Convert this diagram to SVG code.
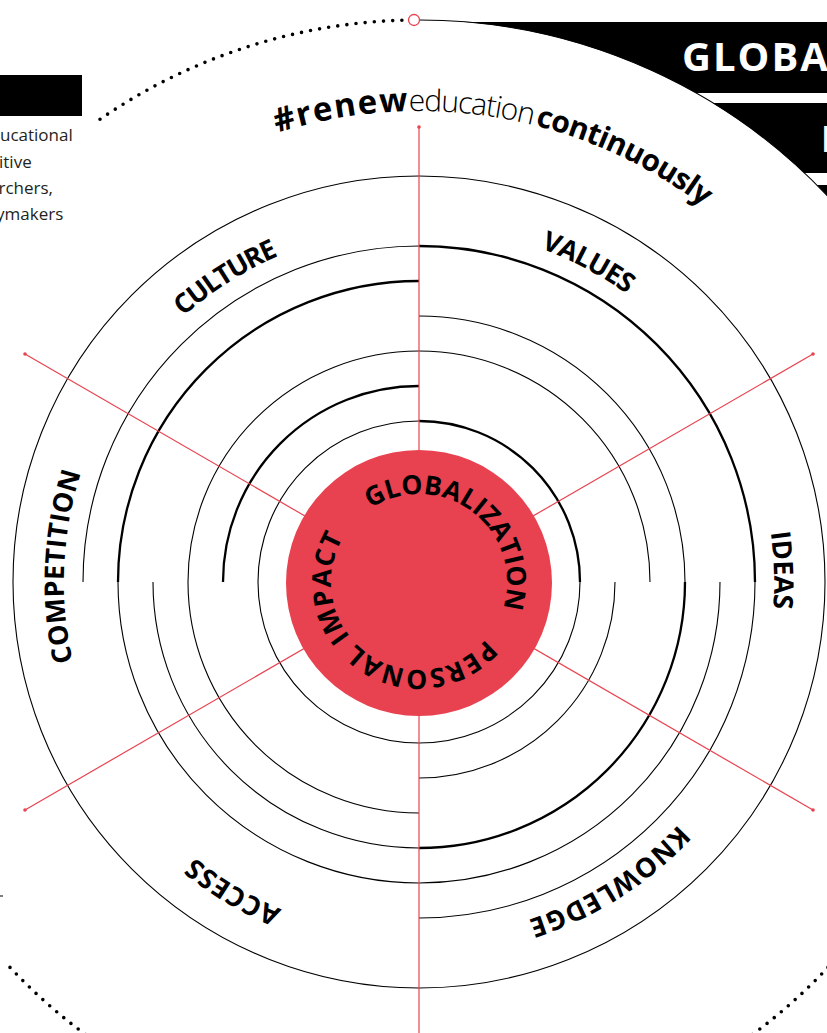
<svg xmlns="http://www.w3.org/2000/svg" width="827" height="1033" viewBox="0 0 827 1033">
<style>
.thin{fill:none;stroke:#000;stroke-width:1.1}
.thick{fill:none;stroke:#000;stroke-width:2.3}
.spoke{stroke:#e8434f;stroke-width:1.2;fill:none}
.end{fill:#e8434f}
.dotted{fill:none;stroke:#000;stroke-width:3.6;stroke-linecap:round;stroke-dasharray:0 9.2}
.lbl{font-family:"Open Sans","Noto Sans",sans-serif;font-weight:700;font-size:27px;fill:#000}
.core{font-family:"Open Sans","Noto Sans",sans-serif;font-weight:700;font-size:26.5px;fill:#000}
.tag{font-family:"Open Sans","Noto Sans",sans-serif;fill:#000}
.side{font-family:"Open Sans","Noto Sans",sans-serif;font-size:17px;fill:#231f20}
.head{font-family:"Open Sans","Noto Sans",sans-serif;font-weight:700;fill:#fff}
</style>
<defs>
<path id="pOuter" d="M419 227 A355 355 0 1 1 419 937 A355 355 0 1 1 419 227"/>
<path id="pCore" d="M419 494 A88 88 0 1 1 419 670 A88 88 0 1 1 419 494 A88 88 0 1 1 419 670 A88 88 0 1 1 419 494"/>
<path id="pTag" d="M419 111 A471 471 0 1 1 419 1053 A471 471 0 1 1 419 111 A471 471 0 1 1 419 1053 A471 471 0 1 1 419 111"/>
</defs>
<rect width="827" height="1033" fill="#fff"/>

<g id="header">
<rect x="420" y="22" width="407" height="71" fill="#000"/>
<rect x="420" y="103" width="407" height="70" fill="#000"/>
<rect x="420" y="185" width="407" height="60" fill="#000"/>
<circle cx="419" cy="582" r="562" fill="#fff"/>
<text class="head" x="682" y="71" font-size="40" letter-spacing="2">GLOBA</text>
<text class="head" x="821" y="152" font-size="35">I</text>
</g>

<g id="side-note">
<rect x="0" y="75" width="82" height="41" fill="#000"/>
<text class="side" x="0" y="141">ucational</text>
<text class="side" x="-1" y="167.5">itive</text>
<text class="side" x="-1.5" y="194">rchers,</text>
<text class="side" x="-4" y="220">ymakers</text>
<line x1="0" y1="896" x2="3" y2="896" stroke="#000" stroke-width="1"/>
</g>

<g id="orbit">
<path class="dotted" d="M100 119.3 A562 562 0 0 1 408 20.1"/>
<path class="thin" d="M420 20 A562 562 0 0 1 840 209.7"/>
<path class="dotted" d="M10 967.4 A562 562 0 0 0 93 1040"/>
<path class="dotted" d="M828 967.4 A562 562 0 0 1 745 1040"/>
<circle cx="414" cy="20" r="5.5" fill="#fff" stroke="#e8434f" stroke-width="1.3"/>
</g>

<g id="rings">
<circle class="thin" cx="419" cy="582" r="406"/>
<path class="thin" d="M258 582 A161 161 0 0 1 419 421"/>
<path class="thick" d="M419 421 A161 161 0 0 1 580 582"/>
<path class="thin" d="M580 582 A161 161 0 0 1 419 743"/>
<path class="thin" d="M419 743 A161 161 0 0 1 258 582"/>
<path class="thick" d="M223 582 A196 196 0 0 1 419 386"/>
<path class="thin" d="M615 582 A196 196 0 0 1 419 778"/>
<path class="thin" d="M188 582 A231 231 0 0 1 419 351"/>
<path class="thin" d="M419 351 A231 231 0 0 1 650 582"/>
<path class="thin" d="M419 813 A231 231 0 0 1 188 582"/>
<path class="thin" d="M419 316 A266 266 0 0 1 685 582"/>
<path class="thick" d="M685 582 A266 266 0 0 1 419 848"/>
<path class="thin" d="M419 848 A266 266 0 0 1 153 582"/>
<path class="thick" d="M118 582 A301 301 0 0 1 419 281"/>
<path class="thin" d="M720 582 A301 301 0 0 1 419 883"/>
<path class="thin" d="M419 883 A301 301 0 0 1 118 582"/>
<path class="thin" d="M83 582 A336 336 0 0 1 419 246"/>
<path class="thick" d="M419 246 A336 336 0 0 1 755 582"/>
<path class="thin" d="M755 582 A336 336 0 0 1 419 918"/>
</g>

<g id="spokes">
<line class="spoke" x1="419" y1="127" x2="419" y2="1040"/>
<line class="spoke" x1="419" y1="582" x2="25" y2="354"/>
<line class="spoke" x1="419" y1="582" x2="813" y2="354"/>
<line class="spoke" x1="419" y1="582" x2="25" y2="810"/>
<line class="spoke" x1="419" y1="582" x2="813" y2="810"/>
<circle class="end" cx="419" cy="127" r="1.8"/>
<circle class="end" cx="25" cy="354" r="1.8"/>
<circle class="end" cx="813" cy="354" r="1.8"/>
<circle class="end" cx="25" cy="810" r="1.8"/>
<circle class="end" cx="813" cy="810" r="1.8"/>
</g>

<g id="core">
<circle cx="419" cy="583" r="133" fill="#e8414f"/>
<text class="core"><textPath href="#pCore" startOffset="500.7" textLength="216" lengthAdjust="spacing">GLOBALIZATION</textPath></text>
<text class="core"><textPath href="#pCore" startOffset="200" textLength="261" lengthAdjust="spacing">PERSONAL IMPACT</textPath></text>
</g>

<g id="hashtag">
<text class="tag"><textPath href="#pTag" startOffset="2814.7" textLength="133" lengthAdjust="spacing" font-weight="700" font-size="33">#renew</textPath><textPath href="#pTag" startOffset="2948.7" textLength="125" lengthAdjust="spacing" font-weight="300" font-size="30">education</textPath><textPath href="#pTag" startOffset="3076.1" textLength="188" lengthAdjust="spacing" font-weight="700" font-size="30">continuously</textPath></text>
</g>

<g id="label-culture"><text class="lbl"><textPath href="#pOuter" startOffset="1972.7" textLength="113" lengthAdjust="spacing">CULTURE</textPath></text></g>
<g id="label-values"><text class="lbl"><textPath href="#pOuter" startOffset="124.2" textLength="97.5" lengthAdjust="spacing">VALUES</textPath></text></g>
<g id="label-ideas"><text class="lbl"><textPath href="#pOuter" startOffset="507.4" textLength="77" lengthAdjust="spacing">IDEAS</textPath></text></g>
<g id="label-knowledge"><text class="lbl"><textPath href="#pOuter" startOffset="824.4" textLength="179.6" lengthAdjust="spacing">KNOWLEDGE</textPath></text></g>
<g id="label-access"><text class="lbl"><textPath href="#pOuter" startOffset="1255.9" textLength="101.9" lengthAdjust="spacing">ACCESS</textPath></text></g>
<g id="label-competition"><text class="lbl"><textPath href="#pOuter" startOffset="1592.3" textLength="191.4" lengthAdjust="spacing">COMPETITION</textPath></text></g>
</svg>
